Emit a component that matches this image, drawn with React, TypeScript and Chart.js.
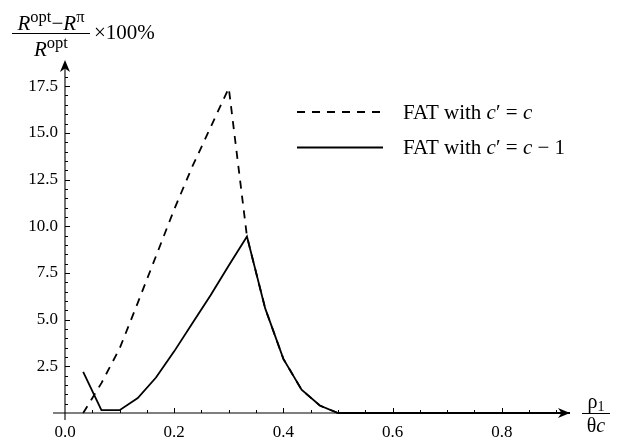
import React, { useEffect, useRef } from "react";
import { Chart, registerables } from "chart.js";

Chart.register(...registerables);

// ---- data (x = rho1 / (theta c), y = relative loss in %) ----
const rhoValues = [
  0.0333, 0.0667, 0.1, 0.1333, 0.1667, 0.2, 0.2333, 0.2667, 0.3, 0.3333,
  0.3667, 0.4, 0.4333, 0.4667, 0.5, 0.5333, 0.5667, 0.6, 0.6333, 0.6667,
  0.7, 0.7333, 0.7667, 0.8, 0.8333, 0.8667, 0.9, 0.9333,
];
const fatSameC = [
  0, 1.6, 3.45, 5.9, 8.4, 10.9, 13.2, 15.3, 17.4, 9.45,
  5.6, 2.9, 1.25, 0.4, 0, 0, 0, 0, 0, 0,
  0, 0, 0, 0, 0, 0, 0, 0,
];
const fatCMinus1 = [
  2.2, 0.15, 0.15, 0.8, 1.9, 3.3, 4.8, 6.3, 7.9, 9.45,
  5.6, 2.9, 1.25, 0.4, 0, 0, 0, 0, 0, 0,
  0, 0, 0, 0, 0, 0, 0, 0,
];
const seriesNames = ["FAT with c\u2032 = c", "FAT with c\u2032 = c\u22121"];

const xMin = 0;
const xMax = 0.925;
const yMin = 0;
const yMax = 18.9;
const xTickStep = 0.2;
const xMinorStep = 0.05;
const yTickStep = 2.5;
const yMinorStep = 0.5;

const FONT = '"Liberation Serif", "DejaVu Serif", serif';
const DASH = [8, 7];

type Seg = { t: string; size: number; italic?: boolean; dy?: number };

function fontOf(s: Seg) {
  return `${s.italic ? "italic " : ""}${s.size}px ${FONT}`;
}

function drawSegs(ctx: CanvasRenderingContext2D, segs: Seg[], x: number, y: number, align: "left" | "center") {
  const widths = segs.map((s) => {
    ctx.font = fontOf(s);
    return ctx.measureText(s.t).width;
  });
  const total = widths.reduce((a, b) => a + b, 0);
  let cx = align === "center" ? x - total / 2 : x;
  ctx.textAlign = "left";
  ctx.textBaseline = "alphabetic";
  segs.forEach((s, i) => {
    ctx.font = fontOf(s);
    ctx.fillText(s.t, cx, y + (s.dy || 0));
    cx += widths[i];
  });
  return total;
}

function arrowHead(ctx: CanvasRenderingContext2D, x: number, y: number, dir: "right" | "up") {
  const L = 12;
  const W = 5;
  const notch = 3.5;
  ctx.beginPath();
  if (dir === "right") {
    ctx.moveTo(x, y);
    ctx.lineTo(x - L, y - W);
    ctx.lineTo(x - L + notch, y);
    ctx.lineTo(x - L, y + W);
  } else {
    ctx.moveTo(x, y);
    ctx.lineTo(x - W, y + L);
    ctx.lineTo(x, y + L - notch);
    ctx.lineTo(x + W, y + L);
  }
  ctx.closePath();
  ctx.fill();
}

const axesPlugin = {
  id: "mmaAxes",
  beforeDatasetsDraw(chart: any) {
    const { ctx, chartArea, scales } = chart;
    const xs = scales.x;
    const ys = scales.y;
    const x0 = xs.getPixelForValue(0);
    const y0 = ys.getPixelForValue(0);
    ctx.save();
    ctx.strokeStyle = "#000";
    ctx.fillStyle = "#000";
    ctx.lineWidth = 1.1;
    ctx.beginPath();
    ctx.moveTo(x0 - 12, y0);
    ctx.lineTo(chartArea.right - 5, y0);
    ctx.moveTo(x0, y0 + 7);
    ctx.lineTo(x0, chartArea.top + 5);
    ctx.stroke();
    arrowHead(ctx, chartArea.right, y0, "right");
    arrowHead(ctx, x0, chartArea.top, "up");
    ctx.lineWidth = 1;
    ctx.beginPath();
    for (let k = 1; k * xMinorStep < xMax - 0.02; k++) {
      const v = k * xMinorStep;
      const major = Math.abs(v / xTickStep - Math.round(v / xTickStep)) < 1e-6;
      const px = Math.round(xs.getPixelForValue(v)) + 0.5;
      ctx.moveTo(px, y0);
      ctx.lineTo(px, y0 - (major ? 5 : 3));
    }
    for (let k = 1; k * yMinorStep < yMax - 0.3; k++) {
      const v = k * yMinorStep;
      const major = Math.abs(v / yTickStep - Math.round(v / yTickStep)) < 1e-6;
      const py = Math.round(ys.getPixelForValue(v)) + 0.5;
      ctx.moveTo(x0, py);
      ctx.lineTo(x0 + (major ? 5 : 3), py);
    }
    ctx.stroke();
    ctx.restore();
  },
  afterDraw(chart: any) {
    const { ctx, chartArea, scales } = chart;
    const y0 = scales.y.getPixelForValue(0);
    ctx.save();
    ctx.fillStyle = "#000";
    ctx.strokeStyle = "#000";
    // ---- y axis label: (R^opt - R^pi)/R^opt x 100% ----
    const big = 21;
    const sup = 16.5;
    const num: Seg[] = [
      { t: "R", size: big, italic: true },
      { t: "opt", size: sup, dy: -8 },
      { t: "\u2212", size: big },
      { t: "R", size: big, italic: true },
      { t: "\u03c0", size: sup, dy: -8 },
    ];
    const den: Seg[] = [
      { t: "R", size: big, italic: true },
      { t: "opt", size: sup, dy: -8 },
    ];
    const fracCx = 51;
    drawSegs(ctx, num, fracCx, 30, "center");
    drawSegs(ctx, den, fracCx, 56, "center");
    ctx.lineWidth = 1;
    ctx.beginPath();
    ctx.moveTo(12, 33.5);
    ctx.lineTo(90, 33.5);
    ctx.stroke();
    drawSegs(ctx, [{ t: "\u00d7100%", size: big }], 94, 39, "left");

    // ---- x axis label: rho_1 / (theta c) ----
    const xlCx = chartArea.right + 26;
    drawSegs(ctx, [{ t: "\u03c1", size: 20 }, { t: "1", size: 14, dy: 3 }], xlCx, y0 - 5, "center");
    ctx.beginPath();
    ctx.moveTo(xlCx - 14, y0 + 0.5);
    ctx.lineTo(xlCx + 14, y0 + 0.5);
    ctx.stroke();
    drawSegs(ctx, [{ t: "\u03b8", size: 20 }, { t: "c", size: 20, italic: true }], xlCx, y0 + 19, "center");

    // ---- legend ----
    const lx1 = 297;
    const lx2 = 383;
    const rows = [
      { y: 112, dash: DASH },
      { y: 147.5, dash: [] as number[] },
    ];
    const fs = 21;
    const texts: Seg[][] = [
      [
        { t: "FAT with ", size: fs },
        { t: "c", size: fs, italic: true },
        { t: "\u2032 = ", size: fs },
        { t: "c", size: fs, italic: true },
      ],
      [
        { t: "FAT with ", size: fs },
        { t: "c", size: fs, italic: true },
        { t: "\u2032 = ", size: fs },
        { t: "c", size: fs, italic: true },
        { t: " \u2212 1", size: fs },
      ],
    ];
    rows.forEach((r, i) => {
      ctx.lineWidth = 1.8;
      ctx.setLineDash(r.dash);
      ctx.beginPath();
      ctx.moveTo(lx1, r.y);
      ctx.lineTo(lx2, r.y);
      ctx.stroke();
      ctx.setLineDash([]);
      drawSegs(ctx, texts[i], 403, r.y + 6.5, "left");
    });
    ctx.restore();
  },
};

export default function App() {
  const ref = useRef<HTMLCanvasElement | null>(null);
  useEffect(() => {
    if (!ref.current) return;
    const clip = { left: false, top: false, right: 0, bottom: false } as any;
    const chart = new Chart(ref.current, {
      type: "line",
      data: {
        datasets: [
          {
            label: seriesNames[0],
            data: rhoValues.map((x, i) => ({ x, y: fatSameC[i] })),
            borderColor: "#000",
            borderWidth: 1.8,
            borderDash: DASH,
            pointRadius: 0,
            tension: 0,
            fill: false,
            clip,
          },
          {
            label: seriesNames[1],
            data: rhoValues.map((x, i) => ({ x, y: fatCMinus1[i] })),
            borderColor: "#000",
            borderWidth: 1.8,
            pointRadius: 0,
            tension: 0,
            fill: false,
            clip,
          },
        ],
      },
      options: {
        animation: false,
        responsive: false,
        devicePixelRatio: 1,
        layout: { padding: { left: 0, top: 60, right: 69, bottom: 0 } },
        plugins: { legend: { display: false }, tooltip: { enabled: false } },
        scales: {
          x: {
            type: "linear",
            min: xMin,
            max: xMax,
            grid: { display: false, drawTicks: false },
            border: { display: false },
            ticks: {
              stepSize: xTickStep,
              includeBounds: false,
              padding: 9,
              color: "#000",
              font: { family: FONT, size: 17 },
              maxRotation: 0,
              autoSkip: false,
              callback: (v: any) => Number(v).toFixed(1),
            },
            afterFit: (s: any) => {
              s.height = 28;
            },
          },
          y: {
            type: "linear",
            min: yMin,
            max: yMax,
            grid: { display: false, drawTicks: false },
            border: { display: false },
            ticks: {
              stepSize: yTickStep,
              includeBounds: false,
              padding: 7,
              color: "#000",
              autoSkip: false,
              font: { family: FONT, size: 17 },
              callback: (v: any) => (Number(v) === 0 ? "" : Number(v).toFixed(1)),
            },
            afterFit: (s: any) => {
              s.width = 65;
            },
          },
        },
      },
      plugins: [axesPlugin],
    });
    return () => chart.destroy();
  }, []);
  return (
    <div style={{ position: "absolute", left: 0, top: 0, width: 639, height: 441, background: "#fff" }}>
      <canvas ref={ref} width={639} height={441} />
    </div>
  );
}
